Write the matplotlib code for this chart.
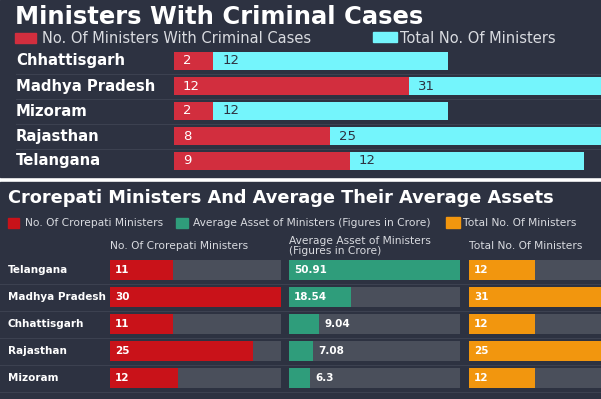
import matplotlib
matplotlib.use("Agg")
import matplotlib.pyplot as plt
from matplotlib.patches import Rectangle
from matplotlib import transforms

W, H = 601, 399

# top chart data
states_top = ["Chhattisgarh", "Madhya Pradesh", "Mizoram", "Rajasthan", "Telangana"]
criminal = [2, 12, 2, 8, 9]
total_top = [12, 31, 12, 25, 12]

# bottom chart data
states_bot = ["Telangana", "Madhya Pradesh", "Chhattisgarh", "Rajasthan", "Mizoram"]
crorepati = [11, 30, 11, 25, 12]
avg_assets = [50.91, 18.54, 9.04, 7.08, 6.3]
total_bot = [12, 31, 12, 25, 12]

BG = "#2d3241"
SEP = "#3c4150"
TRACK = "#4a4f5b"
RED1 = "#d22e3e"
CYAN = "#74f5fc"
RED2 = "#c91219"
GREEN = "#2f9d7b"
ORANGE = "#f2960e"
LIGHT = "#d9dbe0"


def box(x0, y0, x1, y1):
    # pixel box (top-down) -> figure rect
    return [x0 / W, 1 - y1 / H, (x1 - x0) / W, (y1 - y0) / H]


fig = plt.figure(figsize=(W / 100, H / 100), dpi=100, facecolor="white")
renderer = fig.canvas.get_renderer()


def fit(t, width):
    w = t.get_window_extent(renderer).width
    t.set_fontsize(t.get_fontsize() * width / w)
    return t.get_fontsize()


def ftext(x, y, s, **kw):
    return fig.text(x / W, 1 - y / H, s, va="center", ha="left", **kw)


def square(x0, y0, x1, y1, color):
    r = box(x0, y0, x1, y1)
    fig.add_artist(Rectangle((r[0], r[1]), r[2], r[3], transform=fig.transFigure,
                             color=color, zorder=2))


# panel backgrounds
for r in (box(0, 0, W, 177), box(0, 182, W, H)):
    fig.add_artist(Rectangle((r[0], r[1]), r[2], r[3], transform=fig.transFigure,
                             color=BG, zorder=-1))

# ---------------- top chart ----------------
ftext(15, 16.5, "Ministers With Criminal Cases", color="white", fontsize=17.5,
      fontweight="bold")

square(15, 33, 36, 43, RED1)
square(373, 32, 397, 42, CYAN)
ftext(42, 38.5, "No. Of Ministers With Criminal Cases", color=LIGHT, fontsize=10.5)
ftext(400, 38.5, "Total No. Of Ministers", color=LIGHT, fontsize=10.5)

ax1 = fig.add_axes(box(174, 48.5, 601, 173.5))
y = list(range(len(states_top)))
ax1.barh(y, criminal, height=0.72, color=RED1)
ax1.barh(y, total_top, left=criminal, height=0.72, color=CYAN)
ax1.set_xlim(0, 21.85)
ax1.set_ylim(4.5, -0.5)
ax1.axis("off")

tr1 = transforms.blended_transform_factory(fig.transFigure, ax1.transData)
labels = [ax1.text(16 / W, i, s, transform=tr1, va="center", ha="left",
                   color="white", fontsize=10, fontweight="bold")
          for i, s in enumerate(states_top)]
fs = fit(labels[1], 140)
for lab in labels:
    lab.set_fontsize(fs)
for i in range(len(states_top) - 1):
    ax1.plot([16 / W, 1], [i + 0.5, i + 0.5], transform=tr1, color=SEP, lw=0.8,
             clip_on=False)

for i, (c, tot) in enumerate(zip(criminal, total_top)):
    ax1.annotate(str(c), (0, i), xytext=(6.5, 0), textcoords="offset points",
                 va="center", color="white", fontsize=9.5)
    ax1.annotate(str(tot), (c, i), xytext=(6.5, 0), textcoords="offset points",
                 va="center", color=BG, fontsize=9.5)

# ---------------- bottom chart ----------------
t = ftext(8, 198, "Crorepati Ministers And Average Their Average Assets",
          color="white", fontsize=15, fontweight="bold")
fit(t, 547)

square(8, 218, 19, 228, RED2)
square(176, 218, 188, 228, GREEN)
square(446, 217, 460, 228, ORANGE)
t = ftext(25, 223, "No. Of Crorepati Ministers", color=LIGHT, fontsize=8)
fs = fit(t, 138)
ftext(193, 223, "Average Asset of Ministers (Figures in Crore)", color=LIGHT, fontsize=fs)
ftext(463, 223, "Total No. Of Ministers", color=LIGHT, fontsize=fs)

cols = [
    (110, 281, crorepati, RED2, "No. Of Crorepati Ministers"),
    (289, 460, avg_assets, GREEN, "Average Asset of Ministers\n(Figures in Crore)"),
    (469, 640, total_bot, ORANGE, "Total No. Of Ministers"),
]
yb = list(range(len(states_bot)))
axes_b = []
for x0, x1, vals, color, head in cols:
    ax = fig.add_axes(box(x0, 256.5, x1, 391.5))
    vmax = max(vals)
    ax.barh(yb, [vmax] * len(vals), height=0.74, color=TRACK)
    ax.barh(yb, vals, height=0.74, color=color)
    ax.set_xlim(0, vmax)
    ax.set_ylim(4.5, -0.5)
    ax.axis("off")
    for i, v in enumerate(vals):
        txt = f"{v:g}"
        if v / vmax > 0.25:
            ax.annotate(txt, (0, i), xytext=(3.5, 0), textcoords="offset points",
                        va="center", color="white", fontsize=7.5, fontweight="bold")
        else:
            ax.annotate(txt, (v, i), xytext=(4, 0), textcoords="offset points",
                        va="center", color="white", fontsize=7.5, fontweight="bold")
    ftext(x0, 246, head, color=LIGHT, fontsize=fs, linespacing=1.0)
    axes_b.append(ax)

trb = transforms.blended_transform_factory(fig.transFigure, axes_b[0].transData)
for i, s in enumerate(states_bot):
    axes_b[0].text(8 / W, i, s, transform=trb, va="center", ha="left",
                   color="white", fontsize=7.5, fontweight="bold")
for i in range(len(states_bot)):
    axes_b[0].plot([0, 1], [i + 0.5, i + 0.5], transform=trb, color=SEP, lw=0.8,
                   clip_on=False, zorder=0)

fig.savefig("out.png", dpi=100, facecolor="white")
